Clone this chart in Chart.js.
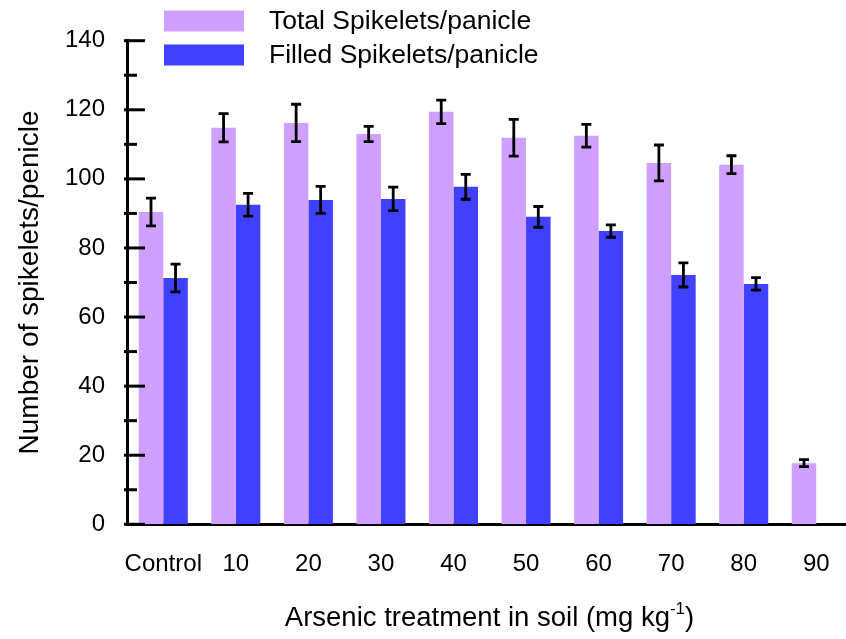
<!DOCTYPE html>
<html>
<head>
<meta charset="utf-8">
<script src="https://cdn.jsdelivr.net/npm/chart.js@4.4.1/dist/chart.umd.min.js"></script>
<style>
  body { margin: 0; background: #fff; }
  #wrap { width: 846px; height: 639px; position: relative; }
</style>
</head>
<body>
<div id="wrap"><canvas id="chart"></canvas></div>
<script>
// values
const xLabels = ['Control', '10', '20', '30', '40', '50', '60', '70', '80', '90'];
const totalSpikelets = [90.4, 114.8, 116.2, 113.0, 119.4, 111.9, 112.5, 104.6, 104.1, 17.7];
const totalErr = [4.0, 4.1, 5.4, 2.2, 3.4, 5.3, 3.3, 5.2, 2.6, 1.0];
const filledSpikelets = [71.3, 92.5, 93.9, 94.2, 97.7, 89.0, 84.9, 72.2, 69.6, null];
const filledErr = [4.0, 3.3, 3.9, 3.4, 3.6, 3.0, 1.8, 3.5, 1.8, null];
const yTicks = [0, 20, 40, 60, 80, 100, 120, 140];

const FONT = '"Liberation Sans", Arial, sans-serif';

const toPoints = (vals) => vals.map((v, i) => ({ x: i, y: v }));

// error bars on top of each bar
const errorBars = {
    id: 'errorBars',
    afterDatasetsDraw(chart) {
        const ctx = chart.ctx;
        const yScale = chart.scales.y;
        ctx.save();
        ctx.strokeStyle = '#000';
        ctx.lineWidth = 2.8;
        chart.data.datasets.forEach((ds, i) => {
            const meta = chart.getDatasetMeta(i);
            meta.data.forEach((bar, j) => {
                const v = ds.data[j].y;
                const e = ds.errors[j];
                if (v == null || e == null) return;
                const x = bar.x;
                const top = yScale.getPixelForValue(v + e);
                const bot = yScale.getPixelForValue(v - e);
                ctx.beginPath();
                ctx.moveTo(x, top); ctx.lineTo(x, bot);
                ctx.moveTo(x - 5, top); ctx.lineTo(x + 5, top);
                ctx.moveTo(x - 5, bot); ctx.lineTo(x + 5, bot);
                ctx.stroke();
            });
        });
        ctx.restore();
    }
};

// inward major/minor ticks on the y axis, legend and x title
const decorations = {
    id: 'decorations',
    afterDraw(chart) {
        const ctx = chart.ctx;
        const area = chart.chartArea;
        const yScale = chart.scales.y;
        ctx.save();
        ctx.strokeStyle = '#000';
        ctx.lineWidth = 3;
        for (let v = yScale.min; v <= yScale.max; v += 10) {
            const y = yScale.getPixelForValue(v);
            const major = v % 20 === 0;
            ctx.beginPath();
            ctx.moveTo(area.left - 3, y);
            ctx.lineTo(area.left + (major ? 18 : 10), y);
            ctx.stroke();
        }

        // legend
        ctx.font = '26.5px ' + FONT;
        ctx.textBaseline = 'middle';
        ctx.textAlign = 'left';
        chart.data.datasets.forEach((ds, i) => {
            const cy = 21 + i * 34;
            ctx.fillStyle = ds.backgroundColor;
            ctx.fillRect(164, cy - 10.5, 80, 21);
            ctx.fillStyle = '#000';
            ctx.fillText(ds.label, 269, cy + 1);
        });

        // x axis title with superscript
        const main = 'Arsenic treatment in soil (mg kg';
        const sup = '-1';
        const tail = ')';
        ctx.textBaseline = 'alphabetic';
        ctx.font = '27.5px ' + FONT;
        const wMain = ctx.measureText(main).width;
        const wTail = ctx.measureText(tail).width;
        ctx.font = '17px ' + FONT;
        const wSup = ctx.measureText(sup).width;
        const cx = (area.left + area.right) / 2 + 3;
        let x = cx - (wMain + wSup + wTail) / 2;
        const base = 626;
        ctx.fillStyle = '#000';
        ctx.font = '27.5px ' + FONT;
        ctx.fillText(main, x, base);
        x += wMain;
        ctx.font = '17px ' + FONT;
        ctx.fillText(sup, x, base - 12);
        x += wSup;
        ctx.font = '27.5px ' + FONT;
        ctx.fillText(tail, x, base);
        ctx.restore();
    }
};

new Chart(document.getElementById('chart'), {
    type: 'bar',
    data: {
        datasets: [
            {
                label: 'Total Spikelets/panicle',
                data: toPoints(totalSpikelets),
                errors: totalErr,
                backgroundColor: '#CFA0FF',
                borderWidth: 0
            },
            {
                label: 'Filled Spikelets/panicle',
                data: toPoints(filledSpikelets),
                errors: filledErr,
                backgroundColor: '#4040FF',
                borderWidth: 0
            }
        ]
    },
    options: {
        responsive: true,
        maintainAspectRatio: false,
        animation: false,
        categoryPercentage: 0.676,
        barPercentage: 1,
        layout: { padding: { top: 40.7, right: 0, left: 0, bottom: 0 } },
        plugins: {
            legend: { display: false },
            tooltip: { enabled: false }
        },
        scales: {
            x: {
                type: 'linear',
                offset: false,
                min: -0.5,
                max: 9.41,
                // hidden tick marks only push the labels down
                grid: { display: false, drawTicks: true, tickLength: 26, offset: false },
                border: { display: true, color: '#000', width: 3 },
                afterBuildTicks: (scale) => {
                    scale.ticks = xLabels.map((_, i) => ({ value: i }));
                },
                afterFit: (scale) => { scale.height = 639 - 524.3; },
                ticks: {
                    autoSkip: false,
                    maxRotation: 0,
                    padding: 0,
                    color: '#000',
                    font: { family: FONT, size: 24 },
                    callback: (v) => xLabels[v]
                }
            },
            y: {
                min: 0,
                max: 140,
                grid: { display: false, drawTicks: false },
                border: { display: true, color: '#000', width: 3 },
                afterBuildTicks: (scale) => {
                    scale.ticks = yTicks.map(v => ({ value: v }));
                },
                afterFit: (scale) => { scale.width = 127; },
                ticks: {
                    padding: 22,
                    color: '#000',
                    font: { family: FONT, size: 24 }
                },
                title: {
                    display: true,
                    text: 'Number of spikelets/penicle',
                    color: '#000',
                    font: { family: FONT, size: 28 },
                    padding: { top: 13, bottom: 0 }
                }
            }
        }
    },
    plugins: [errorBars, decorations]
});
</script>
</body>
</html>
